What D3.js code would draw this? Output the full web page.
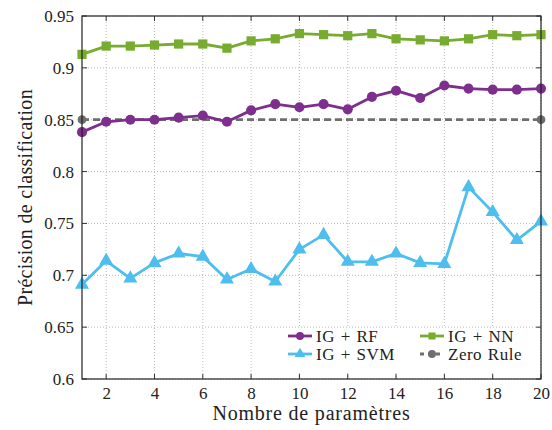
<!DOCTYPE html>
<html><head><meta charset="utf-8">
<script src="https://cdn.jsdelivr.net/npm/d3@7/dist/d3.min.js"></script>
<style>body{margin:0;background:#fff}text{font-family:"Liberation Serif","DejaVu Serif",serif;fill:#222}</style>
</head><body><svg id="c" width="552" height="430"></svg>
<script>
const params = d3.range(1, 21);
const rf  = [0.838,0.848,0.850,0.850,0.852,0.854,0.848,0.859,0.865,0.862,0.865,0.860,0.872,0.878,0.871,0.883,0.880,0.879,0.879,0.880];
const nn  = [0.913,0.921,0.921,0.922,0.923,0.923,0.919,0.926,0.928,0.933,0.932,0.931,0.933,0.928,0.927,0.926,0.928,0.932,0.931,0.932];
const svm = [0.691,0.714,0.697,0.712,0.721,0.718,0.696,0.706,0.694,0.725,0.739,0.713,0.713,0.721,0.712,0.711,0.785,0.761,0.734,0.752];
const zeroX = [1, 20];
const zero = [0.85, 0.85];
const xTicks = [2,4,6,8,10,12,14,16,18,20];
const yTicks = [0.6,0.65,0.7,0.75,0.8,0.85,0.9,0.95];

const svg = d3.select("#c");
const L=82, R=541, T=16, B=379;
const x = d3.scaleLinear().domain([1,20]).range([L,R]);
const y = d3.scaleLinear().domain([0.6,0.95]).range([B,T]);

// grid
const g = svg.append("g");
xTicks.forEach(t=>g.append("line").attr("x1",x(t)).attr("x2",x(t)).attr("y1",T).attr("y2",B)
  .attr("stroke","#aaa").attr("stroke-width",0.8).attr("stroke-dasharray","1,2"));
yTicks.forEach(t=>g.append("line").attr("x1",L).attr("x2",R).attr("y1",y(t)).attr("y2",y(t))
  .attr("stroke","#aaa").attr("stroke-width",0.8).attr("stroke-dasharray","1,2"));

// axes
const ax = svg.append("g").attr("transform",`translate(0,${B})`)
  .call(d3.axisBottom(x).tickValues(xTicks).tickSize(0).tickPadding(8).tickFormat(d3.format("d")));
ax.select(".domain").remove();
ax.selectAll("text").attr("font-size",17).style("font-family",'"Liberation Serif",serif').attr("fill","#222");
const ay = svg.append("g").attr("transform",`translate(${L},0)`)
  .call(d3.axisLeft(y).tickValues(yTicks).tickSize(0).tickPadding(8).tickFormat(d=>String(+d.toFixed(2))));
ay.select(".domain").remove();
ay.selectAll("text").attr("font-size",17).style("font-family",'"Liberation Serif",serif').attr("fill","#222");

// inner tick marks
yTicks.forEach(t=>{
  svg.append("line").attr("x1",L).attr("x2",L+5).attr("y1",y(t)).attr("y2",y(t)).attr("stroke","#333");
  svg.append("line").attr("x1",R-5).attr("x2",R).attr("y1",y(t)).attr("y2",y(t)).attr("stroke","#333");
});
xTicks.forEach(t=>{
  svg.append("line").attr("x1",x(t)).attr("x2",x(t)).attr("y1",B).attr("y2",B-5).attr("stroke","#333");
  svg.append("line").attr("x1",x(t)).attr("x2",x(t)).attr("y1",T).attr("y2",T+5).attr("stroke","#333");
});

const line = d3.line().x(d=>x(d[0])).y(d=>y(d[1]));
function series(xs, ys, color, shape, dash, size){
  const data = xs.map((v,i)=>[v,ys[i]]);
  svg.append("path").datum(data).attr("d",line).attr("fill","none").attr("stroke",color)
    .attr("stroke-width",2.8).attr("stroke-linejoin","round").attr("stroke-dasharray",dash||null);
  svg.append("g").selectAll("path").data(data).join("path")
    .attr("transform",d=>`translate(${x(d[0])},${y(d[1])})`)
    .attr("d",d3.symbol().type(shape).size(size)).attr("fill",color);
}
const C = {rf:"#7E2F8E", nn:"#77AC30", svm:"#4DBEEE", zr:"#6e6e6e"};
series(zeroX, zero, C.zr, d3.symbolCircle, "7,4", 60);
series(params, svm, C.svm, d3.symbolTriangle, null, 85);
series(params, rf, C.rf, d3.symbolCircle, null, 80);
series(params, nn, C.nn, d3.symbolSquare, null, 85);

// frame
svg.append("rect").attr("x",L).attr("y",T).attr("width",R-L).attr("height",B-T)
  .attr("fill","none").attr("stroke","#222").attr("stroke-width",1.2);

// legend
const lg = svg.append("g");
lg.append("rect").attr("x",284).attr("y",328).attr("width",254).attr("height",44).attr("fill","#fff");
const items = [
  {n:"IG + RF", c:C.rf, s:d3.symbolCircle, x:288, y:336, dash:null},
  {n:"IG + NN", c:C.nn, s:d3.symbolSquare, x:420, y:336, dash:null},
  {n:"IG + SVM", c:C.svm, s:d3.symbolTriangle, x:288, y:354, dash:null},
  {n:"Zero Rule", c:C.zr, s:d3.symbolCircle, x:420, y:354, dash:"4,4"},
];
items.forEach(it=>{
  lg.append("line").attr("x1",it.x).attr("x2",it.x+24).attr("y1",it.y).attr("y2",it.y)
    .attr("stroke",it.c).attr("stroke-width",2.8).attr("stroke-dasharray",it.dash);
  lg.append("path").attr("transform",`translate(${it.x+12},${it.y})`)
    .attr("d",d3.symbol().type(it.s).size(50)).attr("fill",it.c);
  lg.append("text").attr("x",it.x+28).attr("y",it.y+6).attr("font-size",17).attr("letter-spacing",0.5)
    .attr("word-spacing",1).text(it.n);
});

// axis labels
svg.append("text").attr("x",(L+R)/2).attr("y",420).attr("text-anchor","middle").attr("font-size",20)
  .attr("letter-spacing",0.8).text("Nombre de paramètres");
svg.append("text").attr("transform",`translate(32,${(T+B)/2}) rotate(-90)`).attr("text-anchor","middle")
  .attr("font-size",20).attr("letter-spacing",0.3).text("Précision de classification");
</script></body></html>
